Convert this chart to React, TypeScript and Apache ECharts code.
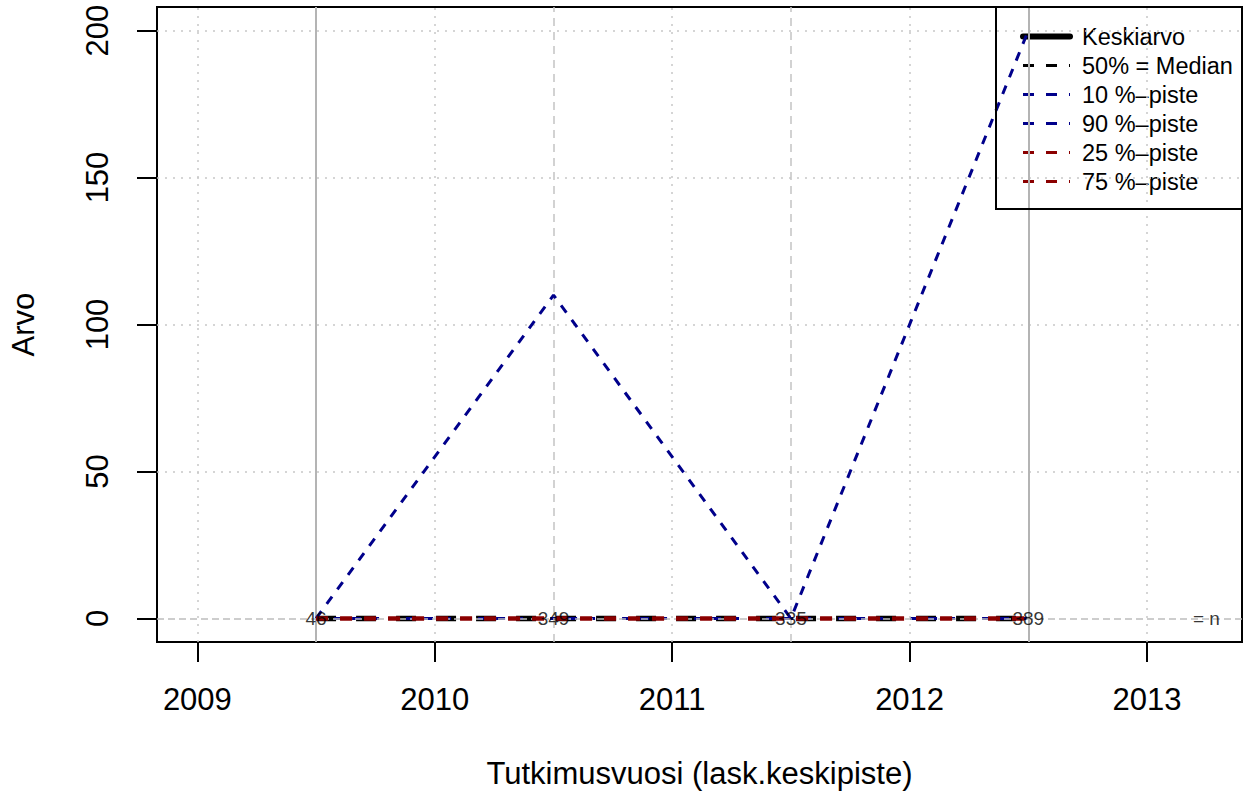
import React, { useEffect, useRef } from "react";
import * as echarts from "echarts";

// ---- data ----
const years = [2009.5, 2010.5, 2011.5, 2012.5];
const keskiarvo: (number | null)[] = [null, null, null, null];
const median = [0, 0, 0, 0];
const p10 = [0, 0, 0, 0];
const p90 = [0, 110, 0, 200];
const p25 = [0, 0, 0, 0];
const p75 = [0, 0, 0, 0];
const nCounts = ["46", "349", "335", "389"];
const nSuffixX = 2013.25;
const nSuffix = "= n";
const xTicks = [2009, 2010, 2011, 2012, 2013];
const yTicks = [0, 50, 100, 150, 200];
const seriesNames = ["Keskiarvo", "50% = Median", "10 %\u2013piste", "90 %\u2013piste", "25 %\u2013piste", "75 %\u2013piste"];

const FONT = "Liberation Sans, Arial, Helvetica, sans-serif";
const BLUE = "#00008b";
const RED = "#8b0000";
const GRID_GRAY = "#c8c8c8";

export default function App() {
  const ref = useRef<HTMLDivElement>(null);
  useEffect(() => {
    if (!ref.current) return;
    const chart = echarts.init(ref.current, undefined, { renderer: "svg" });

    const pts = (vals: (number | null)[]) => years.map((x, i) => [x, vals[i]]);

    const gridLines: any[] = [];
    xTicks.forEach((x) =>
      gridLines.push({ xAxis: x, lineStyle: { color: GRID_GRAY, width: 1.5, type: [2, 6] } })
    );
    yTicks.slice(1).forEach((y) =>
      gridLines.push({ yAxis: y, lineStyle: { color: GRID_GRAY, width: 1.5, type: [2, 6] } })
    );
    gridLines.push({ yAxis: 0, lineStyle: { color: "#bdbdbd", width: 1.5, type: [7, 4] } });
    years.forEach((x, i) => {
      const solid = i === 0 || i === years.length - 1;
      gridLines.push({
        xAxis: x,
        lineStyle: solid
          ? { color: "#b4b4b4", width: 2, type: "solid" }
          : { color: "#c4c4c4", width: 1.5, type: [8, 6] },
      });
    });

    const lineSeries = (name: string, vals: (number | null)[], color: string, width: number, dash: any, z: number) => ({
      type: "line",
      name,
      data: pts(vals),
      symbol: "none",
      showSymbol: false,
      connectNulls: false,
      z,
      lineStyle: { color, width, type: dash, cap: "butt" },
      itemStyle: { color },
      emphasis: { disabled: true },
    });

    const labelData = years.map((x) => [x, 0]).concat([[nSuffixX, 0]]);
    const labelTexts = nCounts.concat([nSuffix]);
    const hiddenSym = { opacity: 0, color: "transparent", borderWidth: 0 };

    const option: any = {
      animation: false,
      textStyle: { fontFamily: FONT },
      grid: {
        left: 155,
        top: 7,
        width: 1087,
        height: 635,
        show: true,
        borderColor: "#000",
        borderWidth: 2,
        backgroundColor: "transparent",
      },
      xAxis: {
        type: "value",
        min: 2008.83,
        max: 2013.4,
        name: "Tutkimusvuosi (lask.keskipiste)",
        nameLocation: "middle",
        nameGap: 116,
        nameTextStyle: { fontSize: 31, color: "#000", fontFamily: FONT },
        axisLine: { show: true, onZero: false, lineStyle: { color: "#000", width: 2 } },
        axisTick: { show: true, inside: false, length: 20, customValues: xTicks, lineStyle: { color: "#000", width: 2 } },
        axisLabel: {
          show: true,
          customValues: xTicks,
          fontSize: 31,
          color: "#000",
          margin: 42,
          fontFamily: FONT,
          formatter: (v: number) => String(v),
        },
        splitLine: { show: false },
      },
      yAxis: {
        type: "value",
        min: -8,
        max: 208,
        name: "Arvo",
        nameLocation: "middle",
        nameGap: 118,
        nameRotate: 90,
        nameTextStyle: { fontSize: 31, color: "#000", fontFamily: FONT },
        axisLine: { show: true, onZero: false, lineStyle: { color: "#000", width: 2 } },
        axisTick: { show: true, inside: false, length: 20, customValues: yTicks, lineStyle: { color: "#000", width: 2 } },
        axisLabel: {
          show: true,
          customValues: yTicks,
          fontSize: 31,
          color: "#000",
          margin: 44,
          rotate: 90,
          fontFamily: FONT,
          formatter: (v: number) => String(v),
        },
        splitLine: { show: false },
      },
      legend: {
        show: true,
        orient: "vertical",
        left: 1015,
        top: 18,
        itemWidth: 47,
        itemHeight: 14,
        itemGap: 2,
        selectedMode: false,
        textStyle: { fontSize: 23.5, color: "#000", fontFamily: FONT, lineHeight: 27, padding: [0, 0, 0, 7] },
        data: [
          { name: seriesNames[0], itemStyle: hiddenSym, lineStyle: { color: "#000", width: 6, type: "solid", cap: "round" } },
          { name: seriesNames[1], itemStyle: hiddenSym, lineStyle: { color: "#000", width: 3, type: [11, 12] } },
          { name: seriesNames[2], itemStyle: hiddenSym, lineStyle: { color: BLUE, width: 3, type: [11, 12] } },
          { name: seriesNames[3], itemStyle: hiddenSym, lineStyle: { color: BLUE, width: 3, type: [11, 12] } },
          { name: seriesNames[4], itemStyle: hiddenSym, lineStyle: { color: RED, width: 3, type: [11, 12] } },
          { name: seriesNames[5], itemStyle: hiddenSym, lineStyle: { color: RED, width: 3, type: [11, 12] } },
        ],
      },
      graphic: [
        {
          type: "rect",
          shape: { x: 996, y: 7, width: 246, height: 202 },
          style: { fill: "none", stroke: "#000", lineWidth: 2 },
          silent: true,
          z: 10,
        },
      ],
      series: [
        {
          type: "scatter",
          name: "grid",
          data: [],
          z: 1,
          silent: true,
          markLine: {
            silent: true,
            symbol: ["none", "none"],
            label: { show: false },
            emphasis: { disabled: true },
            data: gridLines,
          },
        },
        lineSeries(seriesNames[0], keskiarvo, "#000", 6, "solid", 2),
        lineSeries(seriesNames[1], median, "#000", 5.5, [20, 20], 3),
        lineSeries(seriesNames[2], p10, BLUE, 3, [9, 9], 4),
        lineSeries(seriesNames[3], p90, BLUE, 3, [9, 9], 5),
        lineSeries(seriesNames[4], p25, RED, 4, [12, 12], 6),
        lineSeries(seriesNames[5], p75, RED, 4, [12, 12], 7),
        {
          type: "scatter",
          name: "n",
          data: labelData,
          symbolSize: 0,
          z: 8,
          silent: true,
          label: {
            show: true,
            position: "inside",
            fontSize: 19,
            color: "#000",
            fontFamily: FONT,
            formatter: (p: any) => labelTexts[p.dataIndex],
          },
        },
      ],
    };
    chart.setOption(option);
    return () => chart.dispose();
  }, []);

  return (
    <div
      ref={ref}
      style={{ position: "fixed", left: 0, top: 0, width: 1244, height: 797, background: "#fff" }}
    />
  );
}
